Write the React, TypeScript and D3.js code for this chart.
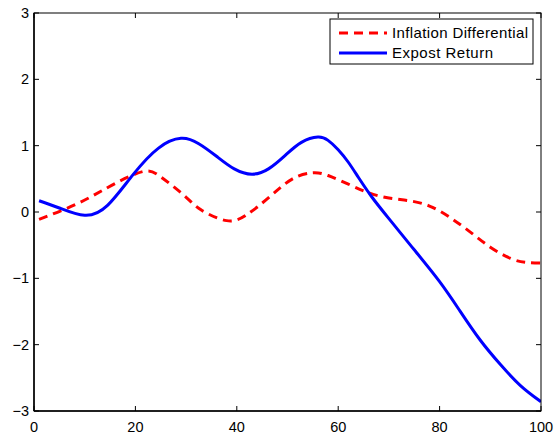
import React from "react";
import * as d3 from "d3";

const inflationX = [1, 6, 11, 16, 21.5, 25, 29.75, 33, 38, 42, 46.5, 51, 55, 58, 62, 66, 70, 74, 78, 82, 86, 90, 94, 97, 100];
const inflationY = [-0.11, 0.04, 0.22, 0.43, 0.61, 0.53, 0.24, 0.03, -0.13, -0.04, 0.23, 0.5, 0.59, 0.55, 0.42, 0.29, 0.21, 0.17, 0.09, -0.08, -0.3, -0.53, -0.7, -0.76, -0.77];

const expostX = [1, 5, 10, 14.5, 19.5, 24.5, 29, 32.5, 36, 39.5, 43, 46.25, 49.5, 52.75, 56, 58, 60, 62, 64, 66.6, 70, 75, 80, 84, 88, 92, 96, 100];
const expostY = [0.17, 0.06, -0.05, 0.1, 0.56, 0.96, 1.11, 1.03, 0.84, 0.65, 0.57, 0.65, 0.85, 1.05, 1.13, 1.08, 0.94, 0.75, 0.52, 0.23, -0.1, -0.57, -1.05, -1.49, -1.93, -2.3, -2.62, -2.86];

const xTicks = [0, 20, 40, 60, 80, 100];
const yTicks = [-3, -2, -1, 0, 1, 2, 3];
const seriesNames = ["Inflation Differential", "Expost Return"];

export default function App() {
  const W = 555, H = 435;
  const L = 34, R = 541, T = 13, B = 411;
  const x = d3.scaleLinear().domain([0, 100]).range([L, R]);
  const y = d3.scaleLinear().domain([-3, 3]).range([B, T]);
  const line = d3
    .line<[number, number]>()
    .x((d) => x(d[0]))
    .y((d) => y(d[1]))
    .curve(d3.curveNatural);
  const infl = inflationX.map((v, i) => [v, inflationY[i]] as [number, number]);
  const expo = expostX.map((v, i) => [v, expostY[i]] as [number, number]);
  const font = "'Liberation Sans', Arial, Helvetica, sans-serif";
  const fmt = (v: number) => (v < 0 ? "\u2212" + Math.abs(v) : String(v));
  const tl = 5;
  return (
    <svg width={W} height={H} style={{ position: "fixed", left: 0, top: 0, background: "#fff" }} fontFamily={font}>
      <rect x={0} y={0} width={W} height={H} fill="#fff" />
      <defs>
        <clipPath id="plotclip">
          <rect x={L} y={T} width={R - L} height={B - T} />
        </clipPath>
      </defs>
      <g clipPath="url(#plotclip)">
        <path d={line(infl) || ""} fill="none" stroke="#ff0000" strokeWidth={3} strokeDasharray="9,6" />
        <path d={line(expo) || ""} fill="none" stroke="#0000ff" strokeWidth={3} />
      </g>
      <rect x={L} y={T} width={R - L} height={B - T} fill="none" stroke="#000" strokeWidth={1} />
      <line x1={L} y1={T} x2={L} y2={B} stroke="#000" strokeWidth={1.5} />
      <line x1={L} y1={B} x2={R} y2={B} stroke="#000" strokeWidth={1.5} />
      {xTicks.map((t) => (
        <g key={"x" + t}>
          <line x1={x(t)} x2={x(t)} y1={B} y2={B - tl} stroke="#000" />
          <line x1={x(t)} x2={x(t)} y1={T} y2={T + tl} stroke="#000" />
          <text x={x(t)} y={432} textAnchor="middle" fontSize={14.5} fill="#000">
            {fmt(t)}
          </text>
        </g>
      ))}
      {yTicks.map((t) => (
        <g key={"y" + t}>
          <line x1={L} x2={L + tl} y1={y(t)} y2={y(t)} stroke="#000" />
          <line x1={R} x2={R - tl} y1={y(t)} y2={y(t)} stroke="#000" />
          <text x={29} y={y(t) + 5} textAnchor="end" fontSize={14.5} fill="#000">
            {fmt(t)}
          </text>
        </g>
      ))}
      <g>
        <rect x={330} y={19} width={203} height={45} fill="#fff" stroke="#000" strokeWidth={1} />
        <line x1={339} x2={387} y1={33} y2={33} stroke="#ff0000" strokeWidth={3} strokeDasharray="9,6" />
        <line x1={339} x2={387} y1={53} y2={53} stroke="#0000ff" strokeWidth={3} />
        <text x={392} y={38} fontSize={15} fill="#000" textLength={136} lengthAdjust="spacing">{seriesNames[0]}</text>
        <text x={392} y={58} fontSize={15} fill="#000" textLength={101} lengthAdjust="spacing">{seriesNames[1]}</text>
      </g>
    </svg>
  );
}
